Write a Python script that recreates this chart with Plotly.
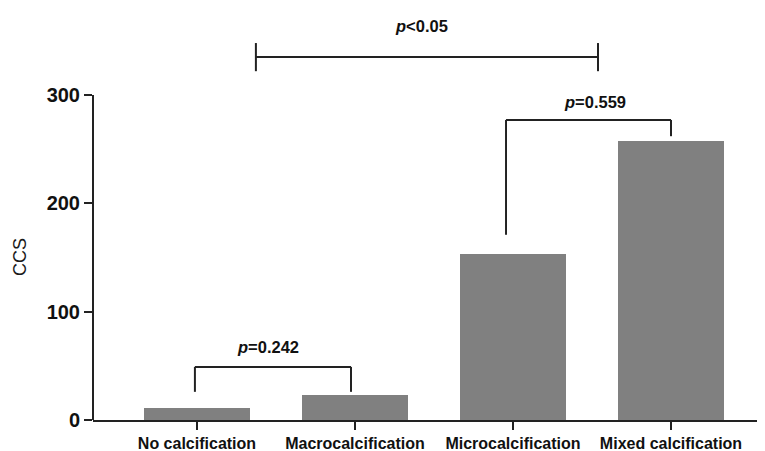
import plotly.graph_objects as go

categories = ["No calcification", "Macrocalcification", "Microcalcification", "Mixed calcification"]
ccs_values = [11, 23, 153, 258]
y_ticks = [0, 100, 200, 300]
y_title = "CCS"

# comparison brackets: (x_left, x_right, y_bar, y_left_end, y_right_end, label, label_x, label_y)
brackets = [
    (-0.013, 0.975, 49, 26, 26, "=0.242", 0.45, 67),
    (1.956, 3.0, 277, 171, 262, "=0.559", 2.52, 294),
]
wide_bracket = (0.373, 2.538, 335, 348, 322, "<0.05", 1.42, 364)

line_color = "#222222"

fig = go.Figure()
fig.add_trace(go.Bar(
    x=list(range(len(categories))),
    y=ccs_values,
    width=0.665,
    marker=dict(color="#808080", line=dict(width=0)),
    cliponaxis=False,
))

shapes = []
annotations = []
for xl, xr, yb, yle, yre, lab, lx, ly in brackets:
    shapes.append(dict(type="line", xref="x", yref="y", x0=xl, x1=xr, y0=yb, y1=yb,
                       line=dict(color=line_color, width=2)))
    shapes.append(dict(type="line", xref="x", yref="y", x0=xl, x1=xl, y0=yb, y1=yle,
                       line=dict(color=line_color, width=2)))
    shapes.append(dict(type="line", xref="x", yref="y", x0=xr, x1=xr, y0=yb, y1=yre,
                       line=dict(color=line_color, width=2)))
    annotations.append(dict(x=lx, y=ly, xref="x", yref="y", text="<b><i>p</i>" + lab + "</b>",
                            showarrow=False, font=dict(family="Liberation Sans", size=16.5, color="#111111")))

xl, xr, yb, yt, ybot, lab, lx, ly = wide_bracket
shapes.append(dict(type="line", xref="x", yref="y", x0=xl, x1=xr, y0=yb, y1=yb,
                   line=dict(color=line_color, width=2)))
shapes.append(dict(type="line", xref="x", yref="y", x0=xl, x1=xl, y0=yt, y1=ybot,
                   line=dict(color=line_color, width=2)))
shapes.append(dict(type="line", xref="x", yref="y", x0=xr, x1=xr, y0=yt, y1=ybot,
                   line=dict(color=line_color, width=2)))
annotations.append(dict(x=lx, y=ly, xref="x", yref="y", text="<b><i>p</i>" + lab + "</b>",
                        showarrow=False, font=dict(family="Liberation Sans", size=16.5, color="#111111")))

# y axis line only spanning 0..300
shapes.append(dict(type="line", xref="paper", yref="y", x0=0, x1=0, y0=0, y1=y_ticks[-1],
                   line=dict(color=line_color, width=2)))

annotations.append(dict(x=(20 - 93) / 672, y=(420 - 257) / 410, xref="paper", yref="paper",
                        text=y_title, showarrow=False, textangle=-90,
                        xanchor="center", yanchor="middle",
                        font=dict(family="Liberation Sans", size=18, color="#1a1a1a")))

fig.update_layout(
    width=765, height=451,
    margin=dict(l=85, r=8, t=2, b=39, autoexpand=False),
    paper_bgcolor="white", plot_bgcolor="white",
    showlegend=False,
    shapes=shapes,
    annotations=annotations,
    bargap=0,
)

fig.update_xaxes(
    range=[-0.658, 3.595],
    tickmode="array",
    tickvals=list(range(len(categories))),
    ticktext=["<b>" + c + "</b>" for c in categories],
    tickfont=dict(family="Liberation Sans", size=16, color="#111111"),
    ticks="outside", ticklen=8, tickwidth=2, tickcolor=line_color,
    showline=True, linecolor=line_color, linewidth=2,
    showgrid=False, zeroline=False, automargin=False,
)
fig.update_yaxes(
    range=[0, 378.5],
    tickmode="array",
    tickvals=y_ticks,
    ticktext=[str(v) for v in y_ticks],
    tickfont=dict(family="Liberation Sans", size=20, color="#111111", weight="bold"),
    ticks="outside", ticklen=8, tickwidth=2, tickcolor=line_color,
    showline=False, showgrid=False, zeroline=False, automargin=False,
)

fig.write_html("out.html")
